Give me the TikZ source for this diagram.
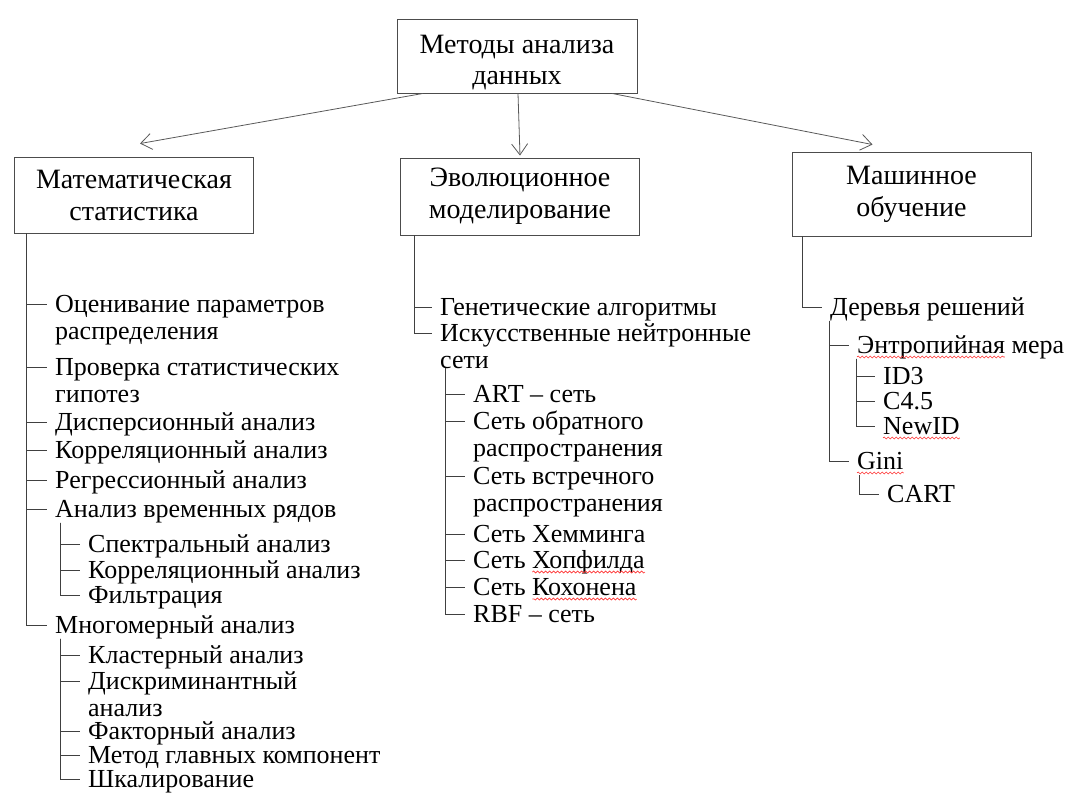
\documentclass[tikz,border=0pt]{standalone}
\usepackage{fontspec}
\setmainfont{Liberation Serif}
\usetikzlibrary{arrows.meta,decorations.pathmorphing}
\newcommand\itemfont{\fontsize{26}{27}\selectfont}
\newcommand\boxfont{\fontsize{28}{32}\selectfont}
\newcommand\topfont{\fontsize{28}{31}\selectfont}
\newlength\hopw
\newlength\kohw
\newlength\entw
\begin{document}
\settowidth\hopw{\itemfont Хопфилда}
\settowidth\kohw{\itemfont Кохонена}
\settowidth\entw{\itemfont Энтропийная}
\begin{tikzpicture}[x=1pt,y=-1pt,
    box/.style={draw=black!70,line width=0.9pt,align=center,inner sep=0pt,minimum width=239pt},
    item/.style={anchor=base west,inner sep=0pt,align=left,font=\itemfont},
    branch/.style={draw=black!75,line width=0.9pt},
    link/.style={draw=black!65,line width=0.8pt,-{Straight Barb[length=11pt,width=16pt]}},
    spell/.style={draw=red!80,line width=0.6pt,decorate,decoration={snake,amplitude=1pt,segment length=4pt}}]
  \useasboundingbox (0,0) rectangle (1090,805);
  \node[box,minimum width=240pt,minimum height=74pt,font=\topfont] (top) at (517,56) {\rule{0pt}{31pt}Методы анализа\\данных};
  \node[box,minimum height=76pt,font=\boxfont] (ms) at (134,195) {Математическая\\статистика};
  \node[box,minimum height=77pt,font=\boxfont] (em) at (520,196.5) {Эволюционное\\моделирование};
  \node[box,minimum height=84pt,font=\boxfont] (mo) at (911.5,194) {Машинное\\обучение};
  \draw[link] ([xshift=-94pt]top.south) -- ([xshift=6pt,yshift=13pt]ms.north);
  \draw[link] ([xshift=1pt]top.south) -- ([yshift=2pt]em.north);
  \draw[link] ([xshift=95pt]top.south) -- ([xshift=-39pt,yshift=7pt]mo.north);

  \node[item] (m1) at (55,339) {Оценивание параметров\\распределения};
  \node[item] (m2) at (55,402) {Проверка статистических\\гипотез};
  \node[item] (m3) at (55,430) {Дисперсионный анализ};
  \node[item] (m4) at (55,458) {Корреляционный анализ};
  \node[item] (m5) at (55,488) {Регрессионный анализ};
  \node[item] (m6) at (55,517) {Анализ временных рядов};
  \node[item] (m61) at (88,552) {Спектральный анализ};
  \node[item] (m62) at (88,578) {Корреляционный анализ};
  \node[item] (m63) at (88,603) {Фильтрация};
  \node[item] (m7) at (55,633) {Многомерный анализ};
  \node[item] (m71) at (88,663) {Кластерный анализ};
  \node[item] (m72) at (88,716) {Дискриминантный\\анализ};
  \node[item] (m73) at (88,739) {Факторный анализ};
  \node[item] (m74) at (88,763) {Метод главных компонент};
  \node[item] (m75) at (88,787) {Шкалирование};
  \foreach \k in {m3,m4,m5,m6,m7}
    \draw[branch] ([xshift=12pt]ms.south west) |- ([xshift=-8pt,yshift=8pt]\k.base west);
  \foreach \k in {m1,m2}
    \draw[branch] ([xshift=12pt]ms.south west) |- ([xshift=-8pt,yshift=35pt]\k.base west);
  \foreach \k in {m61,m62,m63}
    \draw[branch] ([xshift=5pt]m6.south west) |- ([xshift=-8pt,yshift=8pt]\k.base west);
  \foreach \k in {m71,m73,m74,m75}
    \draw[branch] ([xshift=5pt]m7.south west) |- ([xshift=-8pt,yshift=8pt]\k.base west);
  \draw[branch] ([xshift=5pt]m7.south west) |- ([xshift=-8pt,yshift=35pt]m72.base west);

  \node[item] (e1) at (440,315) {Генетические алгоритмы};
  \node[item] (e2) at (440,368) {Искусственные нейтронные\\сети};
  \node[item] (e21) at (473,402) {ART -- сеть};
  \node[item] (e22) at (473,456) {Сеть обратного\\распространения};
  \node[item] (e23) at (473,511) {Сеть встречного\\распространения};
  \node[item] (e24) at (473,542) {Сеть Хемминга};
  \node[item] (e25) at (473,568) {Сеть Хопфилда};
  \node[item] (e26) at (473,595) {Сеть Кохонена};
  \node[item] (e27) at (473,622) {RBF -- сеть};
  \draw[branch] ([xshift=14pt]em.south west) |- ([xshift=-8pt,yshift=8pt]e1.base west);
  \draw[branch] ([xshift=14pt]em.south west) |- ([xshift=-8pt,yshift=35pt]e2.base west);
  \foreach \k in {e21,e24,e25,e26,e27}
    \draw[branch] ([xshift=5pt]e2.south west) |- ([xshift=-8pt,yshift=8pt]\k.base west);
  \foreach \k in {e22,e23}
    \draw[branch] ([xshift=5pt]e2.south west) |- ([xshift=-8pt,yshift=35pt]\k.base west);

  \node[item] (r1) at (830,315) {Деревья решений};
  \node[item] (r11) at (857,353) {Энтропийная мера};
  \node[item] (r111) at (883,384) {ID3};
  \node[item] (r112) at (883,409) {C4.5};
  \node[item] (r113) at (883,434) {NewID};
  \node[item] (r12) at (857,469) {Gini};
  \node[item] (r121) at (887,502) {CART};
  \draw[branch] ([xshift=11pt]mo.south west) |- ([xshift=-8pt,yshift=8pt]r1.base west);
  \foreach \k in {r11,r12}
    \draw[branch] ([xshift=-1pt]r1.south west) |- ([xshift=-8pt,yshift=8pt]\k.base west);
  \foreach \k in {r111,r112,r113}
    \draw[branch] ([xshift=-1pt]r11.south west) |- ([xshift=-8pt,yshift=8pt]\k.base west);
  \draw[branch] ([xshift=2pt,yshift=-6pt]r12.south west) |- ([xshift=-8pt,yshift=8pt]r121.base west);

  \draw[spell] ([yshift=-4pt]e25.base east) -- ++(-\hopw,0pt);
  \draw[spell] ([yshift=-4pt]e26.base east) -- ++(-\kohw,0pt);
  \draw[spell] ([yshift=-4pt]r11.base west) -- ++(\entw,0pt);
  \draw[spell] ([yshift=-4pt]r113.base west) -- ([yshift=-4pt]r113.base east);
  \draw[spell] ([yshift=-4pt]r12.base west) -- ([yshift=-4pt]r12.base east);
\end{tikzpicture}
\end{document}
